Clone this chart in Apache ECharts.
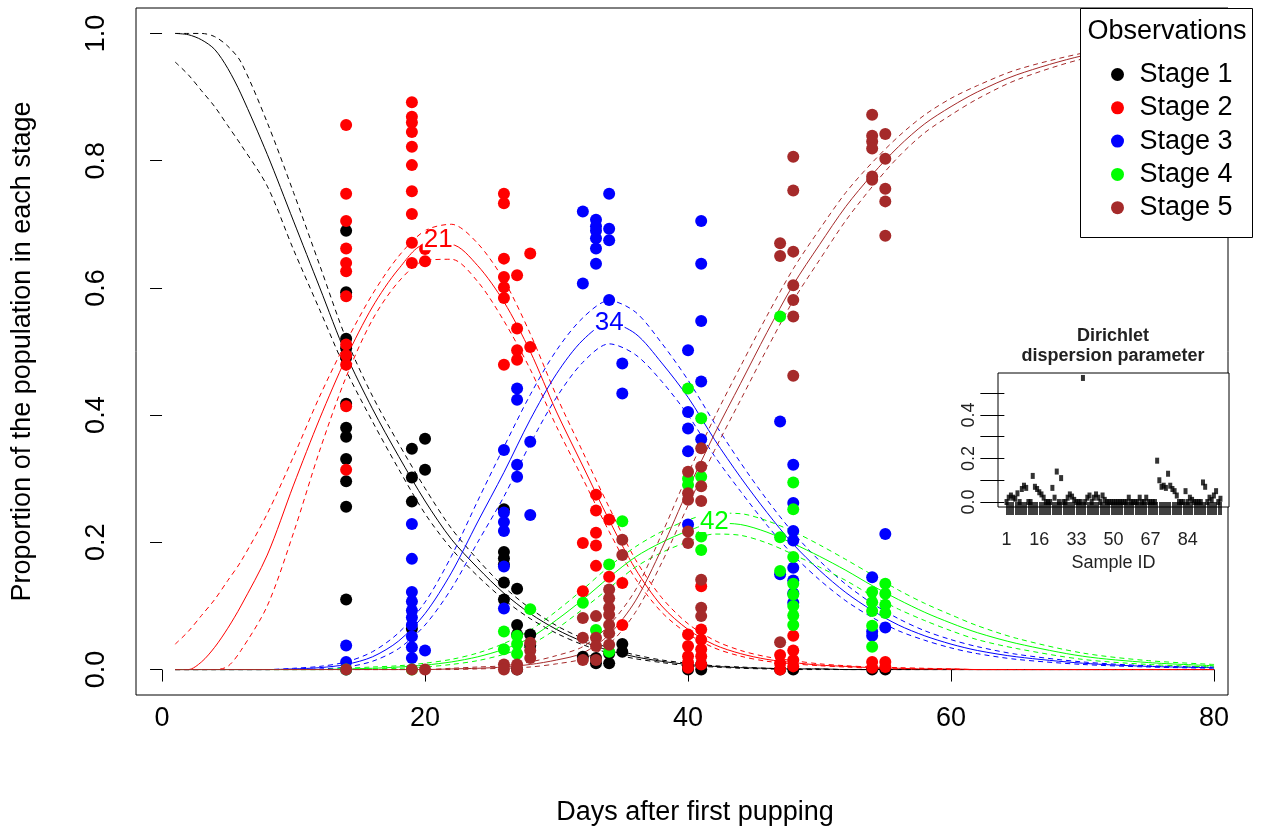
<!DOCTYPE html>
<html><head><meta charset="utf-8">
<script src="https://cdn.jsdelivr.net/npm/echarts@6/dist/echarts.min.js"></script>
<style>html,body{margin:0;padding:0;background:#fff}#c{width:1261px;height:829px}</style>
</head><body><div id="c"></div>
<script>
// ---------------- data ----------------
const stageNames = ['Stage 1', 'Stage 2', 'Stage 3', 'Stage 4', 'Stage 5'];
const xTicks = [0, 20, 40, 60, 80];
const yTicks = [0, 0.2, 0.4, 0.6, 0.8, 1.0];

// observed proportions [day, proportion]
const stage1Obs = [[14,0.69],[14,0.593],[14,0.52],[14,0.505],[14,0.49],[14,0.418],[14,0.38],[14,0.366],[14,0.331],[14,0.296],[14,0.256],[14,0.11],
  [19,0.347],[19,0.302],[19,0.264],[19,0.064],[20,0.363],[20,0.314],
  [26,0.252],[26,0.185],[26,0.175],[26,0.165],[26,0.137],[26,0.11],[27,0.127],[27,0.07],[27,0.055],[27,0.0],[28,0.055],[28,0.038],
  [32,0.02],[33,0.018],[33,0.01],[34,0.025],[34,0.01],[35,0.04],[35,0.028],
  [40,0.005],[40,0.0],[41,0.008],[41,0.0],[47,0.0],[48,0.0],[54,0.0],[55,0.0]];
const stage2Obs = [[14,0.856],[14,0.748],[14,0.705],[14,0.662],[14,0.639],[14,0.626],[14,0.587],[14,0.511],[14,0.494],[14,0.479],[14,0.414],[14,0.314],
  [19,0.892],[19,0.869],[19,0.86],[19,0.845],[19,0.822],[19,0.793],[19,0.752],[19,0.716],[19,0.671],[19,0.639],[20,0.661],[20,0.642],
  [26,0.748],[26,0.733],[26,0.646],[26,0.617],[26,0.601],[26,0.584],[26,0.479],[27,0.62],[27,0.536],[27,0.502],[27,0.487],[28,0.654],[28,0.507],
  [32,0.199],[32,0.123],[33,0.275],[33,0.25],[33,0.215],[33,0.195],[33,0.163],[34,0.236],[34,0.146],[35,0.136],[35,0.07],
  [40,0.055],[40,0.037],[40,0.021],[40,0.011],[40,0.003],[41,0.131],[41,0.063],[41,0.047],[41,0.032],[41,0.021],[41,0.008],
  [47,0.023],[47,0.01],[47,0.0],[48,0.053],[48,0.03],[48,0.015],[48,0.005],[54,0.012],[54,0.003],[55,0.012],[55,0.004]];
const stage3Obs = [[14,0.038],[14,0.012],[14,0.0],
  [19,0.229],[19,0.174],[19,0.122],[19,0.107],[19,0.093],[19,0.082],[19,0.07],[19,0.052],[19,0.035],[19,0.018],[20,0.03],
  [26,0.345],[26,0.247],[26,0.232],[26,0.218],[26,0.162],[26,0.096],[27,0.442],[27,0.424],[27,0.322],[27,0.303],[28,0.358],[28,0.243],
  [32,0.72],[32,0.607],[33,0.707],[33,0.697],[33,0.69],[33,0.678],[33,0.662],[33,0.638],[34,0.748],[34,0.693],[34,0.675],[34,0.581],[35,0.481],[35,0.434],
  [40,0.502],[40,0.405],[40,0.379],[40,0.343],[40,0.228],[41,0.705],[41,0.638],[41,0.548],[41,0.453],[41,0.362],
  [47,0.39],[47,0.15],[48,0.322],[48,0.262],[48,0.218],[48,0.203],[48,0.16],[48,0.14],[48,0.12],[48,0.105],
  [54,0.145],[54,0.06],[54,0.053],[55,0.213],[55,0.066]];
const stage4Obs = [[14,0.0],[19,0.0],
  [26,0.06],[26,0.032],[27,0.053],[27,0.04],[27,0.025],[28,0.095],
  [32,0.105],[33,0.062],[34,0.165],[34,0.028],[35,0.233],
  [40,0.442],[40,0.3],[40,0.29],[41,0.395],[41,0.303],[41,0.209],[41,0.188],
  [47,0.555],[47,0.208],[47,0.155],[48,0.294],[48,0.252],[48,0.177],[48,0.135],[48,0.118],[48,0.1],[48,0.085],[48,0.07],
  [54,0.122],[54,0.106],[54,0.092],[54,0.069],[54,0.036],[55,0.135],[55,0.119],[55,0.102],[55,0.089]];
const stage5Obs = [[14,0.0],[19,0.0],[20,0.0],
  [26,0.008],[26,0.0],[27,0.008],[27,0.0],[28,0.042],[28,0.03],[28,0.018],
  [32,0.081],[32,0.05],[32,0.015],[33,0.084],[33,0.05],[33,0.037],[33,0.015],
  [34,0.126],[34,0.112],[34,0.097],[34,0.086],[34,0.07],[34,0.057],[34,0.039],[35,0.204],[35,0.18],
  [40,0.311],[40,0.277],[40,0.267],[40,0.217],[40,0.199],[41,0.348],[41,0.319],[41,0.288],[41,0.265],[41,0.141],[41,0.097],[41,0.084],
  [47,0.67],[47,0.65],[47,0.043],[48,0.806],[48,0.753],[48,0.657],[48,0.604],[48,0.581],[48,0.555],[48,0.462],
  [54,0.872],[54,0.839],[54,0.83],[54,0.819],[54,0.775],[54,0.77],[55,0.842],[55,0.803],[55,0.756],[55,0.736],[55,0.682]];

// fitted curves at these days
const curveDays = [1,2,3,4,5,6,8,10,12,14,16,18,20,22,24,26,28,30,32,34,36,38,40,42,44,46,48,50,52,54,56,58,60,62,65,70,75,80];
const stage1Fit = [1.0,0.998,0.99,0.975,0.945,0.905,0.81,0.705,0.6,0.495,0.41,0.335,0.265,0.205,0.16,0.12,0.088,0.063,0.044,0.03,0.02,0.013,0.008,0.005,0.003,0.002,0.001,0.001,0,0,0,0,0,0,0,0,0,0];
const stage1Hi  = [1.0,1.0,1.0,0.995,0.98,0.955,0.86,0.75,0.635,0.52,0.43,0.355,0.285,0.222,0.173,0.13,0.096,0.069,0.049,0.034,0.023,0.015,0.01,0.006,0.004,0.002,0.001,0.001,0,0,0,0,0,0,0,0,0,0];
const stage1Lo  = [0.955,0.935,0.91,0.885,0.855,0.825,0.76,0.66,0.565,0.47,0.39,0.315,0.245,0.19,0.147,0.11,0.08,0.057,0.039,0.026,0.017,0.011,0.006,0.004,0.002,0.001,0,0,0,0,0,0,0,0,0,0,0,0];
const stage2Fit = [0,0,0.012,0.035,0.065,0.1,0.18,0.29,0.395,0.49,0.57,0.63,0.668,0.668,0.635,0.578,0.5,0.405,0.32,0.235,0.158,0.1,0.063,0.039,0.025,0.016,0.011,0.007,0.005,0.003,0.002,0.001,0.001,0,0,0,0,0];
const stage2Hi  = [0.04,0.06,0.085,0.11,0.14,0.17,0.245,0.335,0.43,0.515,0.59,0.65,0.69,0.7,0.67,0.612,0.528,0.43,0.342,0.255,0.173,0.113,0.072,0.046,0.03,0.02,0.014,0.009,0.006,0.004,0.003,0.002,0.001,0,0,0,0,0];
const stage2Lo  = [0,0,0,0,0.005,0.03,0.1,0.215,0.345,0.46,0.55,0.61,0.643,0.645,0.61,0.548,0.472,0.382,0.3,0.217,0.143,0.09,0.056,0.034,0.021,0.013,0.009,0.006,0.004,0.002,0.001,0.001,0,0,0,0,0,0];
const stage3Fit = [0,0,0,0,0,0,0,0.001,0.003,0.008,0.02,0.045,0.088,0.152,0.232,0.31,0.393,0.465,0.518,0.545,0.528,0.482,0.428,0.362,0.302,0.247,0.197,0.156,0.121,0.093,0.07,0.053,0.04,0.03,0.02,0.01,0.005,0.003];
const stage3Hi  = [0,0,0,0,0,0,0,0.002,0.005,0.012,0.028,0.058,0.106,0.178,0.265,0.35,0.432,0.502,0.553,0.58,0.562,0.513,0.455,0.388,0.325,0.267,0.215,0.171,0.134,0.104,0.08,0.061,0.047,0.036,0.024,0.012,0.006,0.004];
const stage3Lo  = [0,0,0,0,0,0,0,0,0.001,0.004,0.013,0.033,0.07,0.127,0.2,0.272,0.355,0.428,0.483,0.512,0.495,0.453,0.4,0.336,0.28,0.227,0.18,0.141,0.108,0.082,0.061,0.046,0.034,0.025,0.016,0.008,0.004,0.002];
const stage4Fit = [0,0,0,0,0,0,0,0,0,0.001,0.002,0.004,0.007,0.012,0.02,0.032,0.05,0.078,0.11,0.145,0.177,0.2,0.218,0.23,0.228,0.216,0.198,0.178,0.156,0.132,0.11,0.09,0.073,0.058,0.041,0.021,0.011,0.006];
const stage4Hi  = [0,0,0,0,0,0,0,0,0,0.002,0.004,0.006,0.01,0.016,0.026,0.041,0.062,0.092,0.126,0.162,0.193,0.217,0.235,0.246,0.245,0.234,0.217,0.196,0.173,0.149,0.125,0.104,0.086,0.069,0.049,0.026,0.014,0.008];
const stage4Lo  = [0,0,0,0,0,0,0,0,0,0,0.001,0.002,0.004,0.008,0.014,0.024,0.039,0.064,0.095,0.128,0.161,0.184,0.201,0.213,0.211,0.199,0.181,0.161,0.14,0.116,0.095,0.077,0.061,0.047,0.033,0.016,0.008,0.004];
const stage5Fit = [0,0,0,0,0,0,0,0,0,0,0,0,0,0.001,0.002,0.004,0.008,0.015,0.026,0.055,0.108,0.19,0.283,0.37,0.45,0.53,0.605,0.668,0.728,0.778,0.822,0.858,0.885,0.908,0.935,0.965,0.982,0.99];
const stage5Hi  = [0,0,0,0,0,0,0,0,0,0,0,0,0,0.002,0.004,0.006,0.012,0.022,0.036,0.07,0.125,0.213,0.308,0.396,0.477,0.556,0.63,0.692,0.75,0.797,0.838,0.872,0.898,0.918,0.943,0.969,0.985,0.993];
const stage5Lo  = [0,0,0,0,0,0,0,0,0,0,0,0,0,0,0.001,0.002,0.004,0.009,0.017,0.04,0.09,0.168,0.258,0.344,0.424,0.504,0.58,0.644,0.706,0.759,0.806,0.844,0.872,0.897,0.927,0.96,0.978,0.987];

// peak labels
const peakLabels = ['21', '34', '42'];
const peakDays = [21, 34, 42];
const peakValues = [0.675, 0.545, 0.232];

// inset: Dirichlet dispersion parameter per sample
const dispersion = [0.0,0.02,0.03,0.02,0.015,0.04,0.0,0.06,0.075,0.065,0.0,0.0,0.12,0.07,0.06,0.045,0.035,0.02,0.0,0.0,
  0.0,0.065,0.02,0.14,0.0,0.11,0.0,0.0,0.02,0.035,0.025,0.01,0.0,0.0,0.0,0.57,0.0,0.02,0.03,0.0,
  0.02,0.035,0.02,0.0,0.03,0.01,0.0,0.0,0.0,0.0,0.0,0.0,0.0,0.0,0.0,0.0,0.02,0.0,0.0,0.0,
  0.0,0.02,0.0,0.0,0.02,0.0,0.0,0.0,0.0,0.19,0.10,0.07,0.075,0.065,0.13,0.075,0.06,0.05,0.03,0.0,
  0.0,0.0,0.05,0.0,0.02,0.01,0.0,0.0,0.0,0.0,0.09,0.07,0.0,0.02,0.01,0.03,0.05,0.0,0.015];
const insetXLabels = [1, 16, 33, 50, 67, 84];
const insetYTicks = [0, 0.1, 0.2, 0.3, 0.4, 0.5];
const insetYLabels = [0, 0.2, 0.4];

// ---------------- styles ----------------
const FONT = '"Liberation Sans", Arial, Helvetica, sans-serif';
const stageColors = ['#000000', '#FF0000', '#0000FF', '#00FF00', '#A52A2A'];
const peakColors = ['#FF0000', '#0000FF', '#00FF00'];

const obs = [stage1Obs, stage2Obs, stage3Obs, stage4Obs, stage5Obs];
const fits = [[stage1Fit, stage1Hi, stage1Lo], [stage2Fit, stage2Hi, stage2Lo], [stage3Fit, stage3Hi, stage3Lo],
              [stage4Fit, stage4Hi, stage4Lo], [stage5Fit, stage5Hi, stage5Lo]];

const series = [];
fits.forEach((set, k) => {
  set.forEach((vals, j) => {
    series.push({
      type: 'line', xAxisIndex: 0, yAxisIndex: 0, silent: true,
      data: curveDays.map((d, i) => [d, vals[i]]),
      showSymbol: false, symbol: 'none', smooth: 0.3, z: 2,
      lineStyle: { color: stageColors[k], width: 1, type: j === 0 ? 'solid' : [5, 4] }
    });
  });
});
obs.forEach((data, k) => {
  series.push({
    type: 'scatter', name: stageNames[k], xAxisIndex: 0, yAxisIndex: 0, silent: true,
    data: data, symbol: 'circle', symbolSize: 12, z: 3,
    itemStyle: { color: stageColors[k], opacity: 1 }
  });
});
series.push({
  type: 'scatter', xAxisIndex: 0, yAxisIndex: 0, silent: true, z: 5,
  symbolSize: 2, itemStyle: { color: 'rgba(0,0,0,0)' },
  data: peakDays.map((d, i) => ({ value: [d, peakValues[i]], label: { color: peakColors[i] } })),
  label: { show: true, position: 'inside', formatter: p => peakLabels[p.dataIndex], opacity: 1,
    fontFamily: FONT, fontSize: 26, lineHeight: 20, backgroundColor: '#fff', padding: [0, 1] }
});
series.push({
  type: 'scatter', xAxisIndex: 1, yAxisIndex: 1, silent: true, z: 3,
  data: dispersion.map((v, i) => [i + 1, v]), symbol: 'rect', symbolSize: [4, 6],
  itemStyle: { color: '#000' }
});

const sampleIds = dispersion.map((v, i) => i + 1);

const option = {
  animation: false,
  backgroundColor: '#fff',
  textStyle: { fontFamily: FONT },
  grid: [
    { left: 136, top: 8, right: 33, bottom: 134, show: true, borderColor: '#000', borderWidth: 1,
      backgroundColor: 'transparent', containLabel: false, outerBoundsMode: 'none' },
    { left: 998, top: 373, right: 32, bottom: 322, show: true, borderColor: '#000', borderWidth: 1,
      backgroundColor: '#fff', containLabel: false, outerBoundsMode: 'none' }
  ],
  xAxis: [
    { type: 'value', gridIndex: 0, min: -1.98, max: 81.06,
      axisLine: { show: false }, splitLine: { show: false },
      axisTick: { show: true, customValues: xTicks, length: 12, lineStyle: { color: '#000', width: 1 } },
      axisLabel: { customValues: xTicks, fontSize: 27, color: '#000', margin: 10, fontFamily: FONT },
      name: 'Days after first pupping', nameLocation: 'middle', nameGap: 104,
      nameTextStyle: { fontSize: 27, color: '#000', fontFamily: FONT, padding: [0, 0, 0, 26] } },
    { type: 'value', gridIndex: 1, min: -2.92, max: 102.92,
      axisLine: { show: false }, splitLine: { show: false },
      axisTick: { show: true, customValues: sampleIds, length: 13, lineStyle: { color: '#000', width: 1.5 } },
      axisLabel: { customValues: insetXLabels, fontSize: 18, color: '#222', margin: 24, fontFamily: FONT },
      name: 'Sample ID', nameLocation: 'middle', nameGap: 47,
      nameTextStyle: { fontSize: 18, color: '#222', fontFamily: FONT } }
  ],
  yAxis: [
    { type: 'value', gridIndex: 0, min: -0.04, max: 1.04,
      axisLine: { show: false }, splitLine: { show: false },
      axisTick: { show: true, customValues: yTicks, length: 12, lineStyle: { color: '#000', width: 1 } },
      axisLabel: { customValues: yTicks, rotate: 90, fontSize: 27, color: '#000', margin: 26, fontFamily: FONT,
        formatter: v => v.toFixed(1) },
      name: 'Proportion of the population in each stage', nameLocation: 'middle', nameGap: 100, nameRotate: 90,
      nameTextStyle: { fontSize: 27, color: '#000', fontFamily: FONT } },
    { type: 'value', gridIndex: 1, min: -0.0228, max: 0.5928,
      axisLine: { show: false }, splitLine: { show: false },
      axisTick: { show: true, customValues: insetYTicks, length: 24, lineStyle: { color: '#000', width: 1 } },
      axisLabel: { customValues: insetYLabels, rotate: 90, fontSize: 18, color: '#222', margin: 20, fontFamily: FONT,
        formatter: v => v.toFixed(1) } }
  ],
  legend: {
    data: stageNames, orient: 'vertical', left: 1106, top: 56, itemGap: 6.3,
    itemWidth: 34, itemHeight: 13, icon: 'circle', selectedMode: false, z: 10,
    textStyle: { fontSize: 27, lineHeight: 27, color: '#000', fontFamily: FONT }
  },
  graphic: [
    { type: 'rect', z: 6, shape: { x: 1080.5, y: 8.5, width: 172, height: 229 },
      style: { fill: '#fff', stroke: '#000', lineWidth: 1 } },
    { type: 'text', z: 7, x: 1167, y: 32,
      style: { text: 'Observations', fontSize: 27, fontFamily: FONT, fill: '#000', align: 'center', verticalAlign: 'middle' } },
    { type: 'text', z: 7, x: 1113, y: 336,
      style: { text: 'Dirichlet', fontSize: 18, fontWeight: 'bold', fontFamily: FONT, fill: '#222', align: 'center', verticalAlign: 'middle' } },
    { type: 'text', z: 7, x: 1113, y: 356,
      style: { text: 'dispersion parameter', fontSize: 18, fontWeight: 'bold', fontFamily: FONT, fill: '#222', align: 'center', verticalAlign: 'middle' } }
  ],
  series: series
};

const chart = echarts.init(document.getElementById('c'), null, { renderer: 'canvas' });
chart.setOption(option);
</script></body></html>
